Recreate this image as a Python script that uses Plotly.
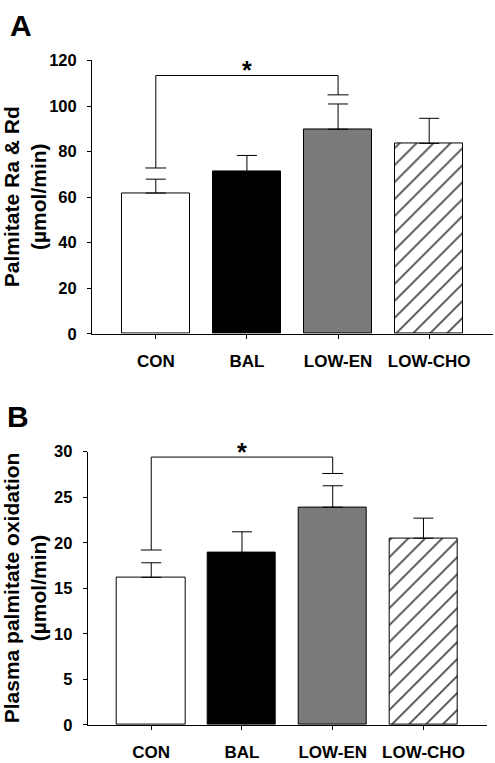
import plotly.graph_objects as go

# ---------------- data ----------------
categories = ["CON", "BAL", "LOW-EN", "LOW-CHO"]

ra_rd_mean = [61.8, 71.2, 89.8, 83.6]
ra_rd_sem = [6.1, 7.1, 11.1, 11.0]
ra_rd_sig_ends = [72.8, 104.9]   # bracket feet over CON and LOW-EN
ra_rd_sig_top = 113.4

ox_mean = [16.2, 18.9, 23.9, 20.5]
ox_sem = [1.6, 2.3, 2.35, 2.2]
ox_sig_ends = [19.2, 27.6]
ox_sig_top = 29.4

y_ticks_A = [0, 20, 40, 60, 80, 100, 120]
y_ticks_B = [0, 5, 10, 15, 20, 25, 30]

# ---------------- styles ----------------
FONT = "Liberation Sans, Arial, sans-serif"
W, H = 495, 763
bar_colors = ["white", "black", "#7a7a7a", "white"]
bar_patterns = ["", "", "", "/"]
CAP = 0.115  # half width of bracket caps (category units)
idx = list(range(len(categories)))
sig_pair = [0, 2]

fig = go.Figure()


def add_panel(means, sems, ends, top, xa, ya):
    fig.add_trace(go.Bar(
        x=idx, y=means, width=0.75,
        marker=dict(color=bar_colors, line=dict(color="black", width=1),
                    pattern=dict(shape=bar_patterns, fgcolor="black", bgcolor="white",
                                 fgopacity=1, size=12, solidity=0.14)),
        error_y=dict(type="data", symmetric=False, array=sems, arrayminus=[0] * len(sems),
                     color="black", thickness=1, width=10),
        xaxis=xa, yaxis=ya, showlegend=False, hoverinfo="skip"))
    # significance bracket
    fig.add_trace(go.Scatter(
        x=[sig_pair[0], sig_pair[0], sig_pair[1], sig_pair[1]],
        y=[ends[0], top, top, ends[1]],
        mode="lines", line=dict(color="black", width=1),
        xaxis=xa, yaxis=ya, showlegend=False, hoverinfo="skip"))
    fig.add_trace(go.Scatter(
        x=[sig_pair[0] - CAP, sig_pair[0] + CAP, None, sig_pair[1] - CAP, sig_pair[1] + CAP],
        y=[ends[0], ends[0], None, ends[1], ends[1]],
        mode="lines", line=dict(color="black", width=1),
        xaxis=xa, yaxis=ya, showlegend=False, hoverinfo="skip"))
    fig.add_annotation(x=(sig_pair[0] + sig_pair[1]) / 2, y=top, text="<b>*</b>",
                       xref=xa, yref=ya, showarrow=False, yanchor="middle", yshift=5,
                       font=dict(family=FONT, size=25, color="black"))


add_panel(ra_rd_mean, ra_rd_sem, ra_rd_sig_ends, ra_rd_sig_top, "x", "y")
add_panel(ox_mean, ox_sem, ox_sig_ends, ox_sig_top, "x2", "y2")

xcommon = dict(range=[-0.7, 3.7], tickvals=idx, ticktext=categories, ticks="outside",
               ticklen=4, tickcolor="black", showline=True, linecolor="black", linewidth=1,
               showgrid=False, zeroline=False, ticklabelstandoff=8,
               tickfont=dict(family=FONT, size=17, color="black", weight="bold"))
ycommon = dict(ticks="outside", ticklen=4, tickcolor="black", showline=True,
               linecolor="black", linewidth=1, showgrid=False, zeroline=False,
               ticklabelstandoff=7,
               tickfont=dict(family=FONT, size=16.5, color="black", weight="bold"))

domA_y = [1 - 332.7 / H, 1 - 52.7 / H]
domB_y = [1 - 733.3 / H, 1 - 453.3 / H]

fig.update_layout(
    width=W, height=H, margin=dict(l=0, r=0, t=0, b=0),
    paper_bgcolor="white", plot_bgcolor="white", bargap=0,
    xaxis=dict(domain=[92 / W, 493 / W], anchor="y", **xcommon),
    yaxis=dict(domain=domA_y, anchor="x", range=[0, 120], tickvals=y_ticks_A, **ycommon),
    xaxis2=dict(domain=[87.7 / W, 487 / W], anchor="y2", **xcommon),
    yaxis2=dict(domain=domB_y, anchor="x2", range=[0, 30], tickvals=y_ticks_B, **ycommon),
)

# y-axis titles
fig.add_annotation(x=25 / W, y=sum(domA_y) / 2, xref="paper", yref="paper",
                   text="<b>Palmitate Ra & Rd<br>(µmol/min)</b>", textangle=-90,
                   showarrow=False, xanchor="center", yanchor="middle",
                   font=dict(family=FONT, size=21, color="black"))
fig.add_annotation(x=25 / W, y=sum(domB_y) / 2, xref="paper", yref="paper",
                   text="<b>Plasma palmitate oxidation<br>(µmol/min)</b>", textangle=-90,
                   showarrow=False, xanchor="center", yanchor="middle",
                   font=dict(family=FONT, size=21, color="black"))

# panel letters
fig.add_annotation(x=20.5 / W, y=1 - 17 / H, xref="paper", yref="paper", text="<b>A</b>",
                   showarrow=False, xanchor="center", yanchor="middle",
                   font=dict(family=FONT, size=30, color="black"))
fig.add_annotation(x=17.5 / W, y=1 - 417 / H, xref="paper", yref="paper", text="<b>B</b>",
                   showarrow=False, xanchor="center", yanchor="middle",
                   font=dict(family=FONT, size=30, color="black"))

fig.write_html("out.html", config={"displayModeBar": False},
               post_script="document.body.style.margin='0';document.body.style.overflow='hidden';")
